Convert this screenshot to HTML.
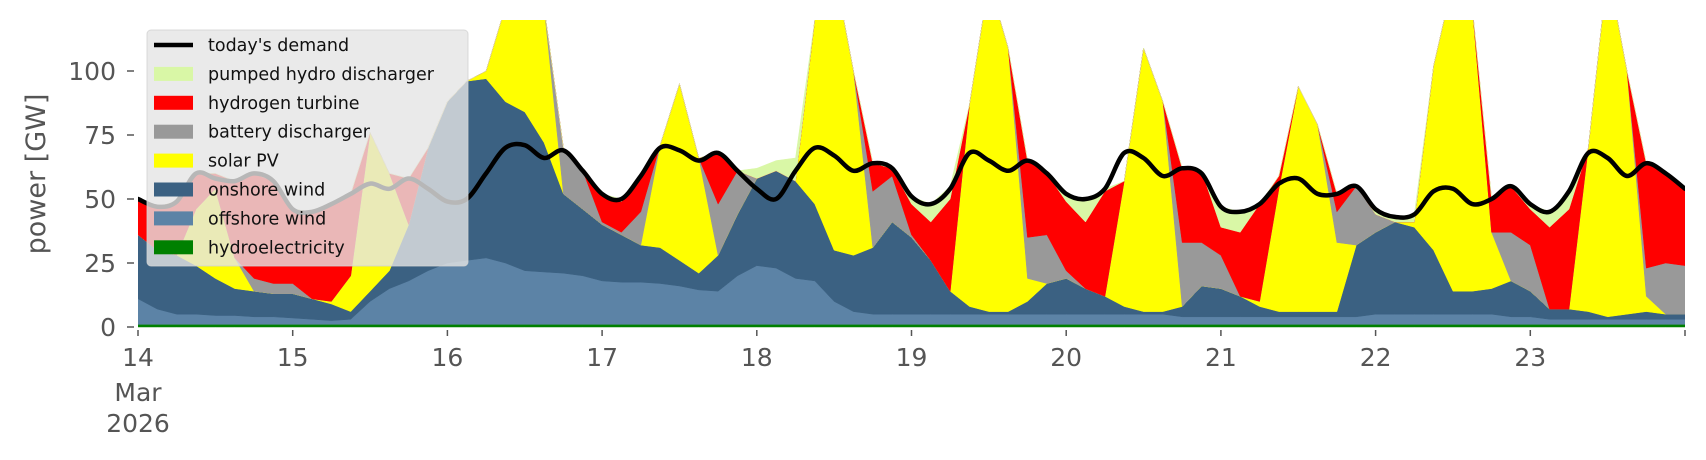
<!DOCTYPE html>
<html><head><meta charset="utf-8">
<style>
html,body{margin:0;padding:0;background:#fff;}
svg{display:block;font-family:"DejaVu Sans","Liberation Sans",sans-serif;}
</style></head>
<body>
<svg id="chart" width="1706" height="460" viewBox="0 0 1706 460" xmlns="http://www.w3.org/2000/svg">
<defs><clipPath id="plotclip"><rect x="138" y="20" width="1547" height="308"/></clipPath></defs>
<g id="areas" clip-path="url(#plotclip)"></g>
<g id="axes"></g>
<text x="0" y="0" transform="translate(45,174) rotate(-90)" text-anchor="middle" font-size="27" fill="#555">power [GW]</text>
<g id="legend"></g>
</svg>
<script>
// 3-hourly samples, 14 Mar 00:00 -> 24 Mar 00:00 (81 points)
const tickLabels = ["14","15","16","17","18","19","20","21","22","23"];
const yTicks = [0,25,50,75,100];
const hydro = Array(81).fill(1);
const offshore = [10,6,4,4,3.5,3.5,3,3,2.5,2,1.5,2,9,14,17,21,24,25,26,24,21,20.5,20,19,17,16.5,16.5,16,15,13.5,13,19,23,22,18,17,9,5,4,4,4,4,4,4,4,4,4,4,4,4,4,4,4,4,3,3,3,3,3,3,3,3,3,3,4,4,4,4,4,4,4,3,3,2,2,2,2,2,2,2,2];
const onshore = [25,23,23,19,14.5,10.5,10,9,9.5,8,6.5,3,4,7,22,48,63,70,70,63,62,50.5,31,26,22,18.5,14.5,14,10,6.5,14,24,34,38,38,30,20,22,26,36,30,21,9,3,1,1,5,12,14,10,7,3,1,1,4,12,11,8,4,2,2,2,2,28,32,36,34,25,9,9,10,14,10,4,4,3,1,2,3,2,2];
const solar = [0,0,0,22,35,12,0,0,0,0,1,14,62,38,0,0,0,0,3,37,56,53,0,0,0,0,0,40,69,45,0,0,0,0,0,72,110,72,0,0,0,0,0,79,129,103,9,0,0,0,0,49,103,82,0,0,0,0,2,48,88,73,27,0,0,0,2,72,121,111,22,0,0,0,0,64,136,95,6,0,0];
const battery = [0,0,0,0,0,0,5,4,4,0,0,0,0,0,0,0,0,0,0,0,0,0,18,15,1,1,13,0,0,0,20,17,0,0,0,0,0,0,22,18,1,0,0,0,0,0,16,19,3,0,0,0,0,0,25,17,13,0,0,0,0,0,12,23,7,0,0,0,0,0,0,19,18,0,0,0,0,0,11,20,19];
const hydrogen = [14,17,21,14,6,30,41,40,29,34,38,32,0,0,18,0,0,0,0,0,0,0,0,0,11,12,14,0,0,0,20,0,0,0,0,0,0,0,11,3,12,15,36,0,0,0,30,24,27,26,41,0,0,0,29,28,11,25,38,5,0,0,7,0,0,0,0,0,0,0,13,18,14,32,39,0,0,0,41,35,30];
const pumped = [0,0,0,0,0,0,0,0,0,0,0,0,0,0,0,0,0,0,0,0,0,0,0,0,0,1,0,0,0,0,0,0,4,4,9,0,0,0,0,0,3,7,5,0,0,0,0,0,3,8,1,0,0,0,0,0,8,8,0,0,0,0,0,0,2,2,3,0,0,0,0,0,2,6,7,0,0,0,0,0,0];
const demand = [50,47,49,60,58,57,60,57,46,45,48,52,56,54,58,54,49,50,60,70,71,66,69,61,52,50,59,70,69,65,68,61,54,50,61,70,67,61,64,62,51,48,54,68,65,61,65,60,52,50,54,68,66,59,62,60,47,45,48,56,58,52,52,55,46,43,44,53,54,48,50,55,48,45,53,68,66,59,64,60,54];

const NS = "http://www.w3.org/2000/svg";
const X0 = 138, X1 = 1685, Y0 = 327, PXPERGW = 2.56;
const N = demand.length;
function xs(i){ return X0 + (X1 - X0) * i / (N - 1); }
function ys(v){ return Y0 - v * PXPERGW; }
function mk(tag, attrs, parent){ const e = document.createElementNS(NS, tag); for (const k in attrs) e.setAttribute(k, attrs[k]); parent.appendChild(e); return e; }

const series = [
  {name:"hydroelectricity", data:hydro, color:"#008000"},
  {name:"offshore wind", data:offshore, color:"#5c83a6"},
  {name:"onshore wind", data:onshore, color:"#3b6182"},
  {name:"solar PV", data:solar, color:"#ffff00"},
  {name:"battery discharger", data:battery, color:"#999999"},
  {name:"hydrogen turbine", data:hydrogen, color:"#ff0000"},
  {name:"pumped hydro discharger", data:pumped, color:"#d9f7a6"}
];
const areas = document.getElementById("areas");
let base = Array(N).fill(0);
series.forEach(s => {
  const top = base.map((b,i) => b + s.data[i]);
  let pts = [];
  for (let i=0;i<N;i++) pts.push(xs(i).toFixed(1)+","+ys(top[i]).toFixed(1));
  for (let i=N-1;i>=0;i--) pts.push(xs(i).toFixed(1)+","+ys(base[i]).toFixed(1));
  const p = mk("polygon", {points: pts.join(" "), fill: s.color, stroke: s.color, "stroke-width": "0.5"}, areas);
  
  
  base = top;
});
// smooth demand line (Catmull-Rom)
const P = demand.map((v,i) => [xs(i), ys(v)]);
let d = "M" + P[0][0].toFixed(1) + "," + P[0][1].toFixed(1);
for (let i=0;i<N-1;i++){
  const p0 = P[Math.max(0,i-1)], p1 = P[i], p2 = P[i+1], p3 = P[Math.min(N-1,i+2)];
  const c1x = p1[0] + (p2[0]-p0[0])/6, c1y = p1[1] + (p2[1]-p0[1])/6;
  const c2x = p2[0] - (p3[0]-p1[0])/6, c2y = p2[1] - (p3[1]-p1[1])/6;
  d += " C" + c1x.toFixed(1) + "," + c1y.toFixed(1) + " " + c2x.toFixed(1) + "," + c2y.toFixed(1) + " " + p2[0].toFixed(1) + "," + p2[1].toFixed(1);
}
const dl = mk("path", {d: d, fill:"none", stroke:"#000", "stroke-width":"4.5", "stroke-linejoin":"round", "stroke-linecap":"round"}, areas);



const axes = document.getElementById("axes");
yTicks.forEach(v => {
  const y = ys(v);
  const tk = mk("line", {x1:127, x2:134, y1:y, y2:y, stroke:"#555", "stroke-width":"1.5"}, axes);
  
  
  const t = mk("text", {x:116, y:y+9, "text-anchor":"end", "font-size":"25", fill:"#555"}, axes);
  t.textContent = String(v);
  
  
});
for (let k=0;k<=tickLabels.length;k++){
  const x = X0 + (X1 - X0) * k / tickLabels.length;
  const tk = mk("line", {x1:x, x2:x, y1:330, y2:336, stroke:"#555", "stroke-width":"1.5"}, axes);
  
  
  if (k < tickLabels.length){
    const t = mk("text", {x:x, y:366, "text-anchor":"middle", "font-size":"25", fill:"#555"}, axes);
    t.textContent = tickLabels[k];
    
    
  }
}
const m1 = mk("text", {x:X0, y:401, "text-anchor":"middle", "font-size":"25", fill:"#555"}, axes);
m1.textContent = "Mar";


const m2 = mk("text", {x:X0, y:432, "text-anchor":"middle", "font-size":"25", fill:"#555"}, axes);
m2.textContent = "2026";



const lg = document.getElementById("legend");
const box = mk("rect", {x:147, y:30, width:321, height:236, rx:4, fill:"rgba(229,229,229,0.8)", stroke:"rgba(210,210,210,0.8)", "stroke-width":"1"}, lg);


const entries = [{name:"today's demand", color:"#000", line:true}].concat(series.slice().reverse());
entries.forEach((e,i) => {
  const cy = 45 + i * 28.9;
  let h;
  if (e.line) h = mk("line", {x1:154, x2:193, y1:cy, y2:cy, stroke:"#000", "stroke-width":"4.5"}, lg);
  else h = mk("rect", {x:154, y:cy-7, width:39, height:14, fill:e.color}, lg);
  
  
  const t = mk("text", {x:208, y:cy+6, "font-size":"17.5", fill:"#111"}, lg);
  t.textContent = e.name;
  
  
});
</script>
</body></html>
